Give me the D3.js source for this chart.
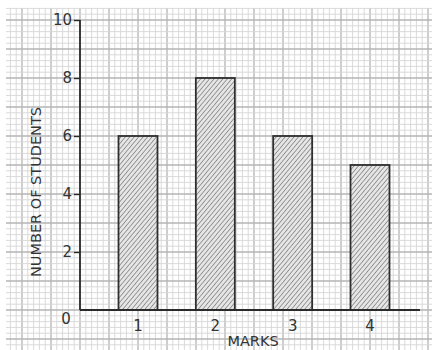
<!DOCTYPE html>
<html lang="en">
  <head>
    <meta charset="utf-8" />
    <title>Number of students by marks</title>
    <script src="https://cdnjs.cloudflare.com/ajax/libs/d3/7.8.5/d3.min.js"></script>
    <style type="text/css">
      body { margin: 0; background: #fff; }
      text { font-family: "DejaVu Sans", sans-serif; fill: #333; }
    </style>
  </head>

  <body>
    <div id="chart"></div>
    <script>
      const marks = [1, 2, 3, 4];
      const students = [6, 8, 6, 5];
      const yTicks = [0, 2, 4, 6, 8, 10];

      const W = 435, H = 350;

      const svg = d3.select('#chart')
        .append('svg')
        .attr('width', W)
        .attr('height', H);

      // hatch pattern for the bars
      const pat = svg.append('defs').append('pattern')
        .attr('id', 'hatch')
        .attr('patternUnits', 'userSpaceOnUse')
        .attr('width', 3.4)
        .attr('height', 3.4)
        .attr('patternTransform', 'rotate(40)');
      pat.append('rect').attr('width', 3.4).attr('height', 3.4).attr('fill', '#e6e6e6');
      pat.append('line')
        .attr('x1', 0).attr('y1', 0).attr('x2', 0).attr('y2', 3.4)
        .attr('stroke', '#666')
        .attr('stroke-width', 1.2);

      const y = d3.scaleLinear().domain([0, 10]).range([310, 20]);
      const x = d3.scaleLinear().domain([1, 4]).range([138, 370]);
      const axisX = 80;
      const barW = 39;

      // graph paper background
      const unit = y(0) - y(1);
      const step = unit / 5;
      const grid = svg.append('g');
      for (let i = -40; i < 80; i++) {
        const gx = axisX + i * step;
        if (gx < 6 || gx > 432) continue;
        grid.append('line')
          .attr('x1', gx).attr('x2', gx).attr('y1', 8).attr('y2', H)
          .attr('stroke', i % 5 === 0 ? '#b4b4b4' : '#d6d6d6')
          .attr('stroke-width', i % 5 === 0 ? 1.3 : 0.9);
      }
      for (let j = -10; j < 60; j++) {
        const gy = y(0) - j * step;
        if (gy < 8 || gy > H) continue;
        grid.append('line')
          .attr('x1', 6).attr('x2', 432).attr('y1', gy).attr('y2', gy)
          .attr('stroke', j % 5 === 0 ? '#b4b4b4' : '#d6d6d6')
          .attr('stroke-width', j % 5 === 0 ? 1.3 : 0.9);
      }

      // bars
      svg.selectAll('rect.bar')
        .data(marks)
        .join('rect')
        .attr('class', 'bar')
        .attr('x', (d) => x(d) - barW / 2)
        .attr('y', (d, i) => y(students[i]))
        .attr('width', barW)
        .attr('height', (d, i) => y(0) - y(students[i]))
        .attr('fill', 'url(#hatch)')
        .attr('stroke', '#2e2e2e')
        .attr('stroke-width', 1.8);

      // y axis
      const yAxis = svg.append('g')
        .attr('transform', `translate(${axisX},0)`)
        .call(d3.axisLeft(y).tickValues(yTicks.filter((t) => t > 0)).tickSize(6).tickPadding(2));
      yAxis.select('.domain').attr('stroke', '#2a2a2a').attr('stroke-width', 1.8).attr('d', `M0,${y(10)}V${y(0)}`);
      yAxis.selectAll('.tick line').attr('stroke', '#2a2a2a').attr('stroke-width', 1.4);
      yAxis.selectAll('.tick text').attr('font-size', 15).attr('fill', '#333');

      // x axis baseline
      svg.append('line')
        .attr('x1', axisX).attr('x2', 420)
        .attr('y1', y(0)).attr('y2', y(0))
        .attr('stroke', '#2a2a2a')
        .attr('stroke-width', 1.8);

      svg.append('text')
        .attr('x', 66).attr('y', y(0) + 14)
        .attr('text-anchor', 'middle')
        .attr('font-size', 15)
        .text(yTicks[0]);

      svg.selectAll('text.xlab')
        .data(marks)
        .join('text')
        .attr('class', 'xlab')
        .attr('x', (d) => x(d))
        .attr('y', y(0) + 21)
        .attr('text-anchor', 'middle')
        .attr('font-size', 15)
        .text((d) => d);

      svg.append('text')
        .attr('x', 253).attr('y', 346)
        .attr('text-anchor', 'middle')
        .attr('font-size', 14.5)
        .text('MARKS');

      svg.append('text')
        .attr('transform', `translate(41,192) rotate(-90)`)
        .attr('text-anchor', 'middle')
        .attr('font-size', 14.5)
        .text('NUMBER OF STUDENTS');
    </script>
  </body>
</html>
